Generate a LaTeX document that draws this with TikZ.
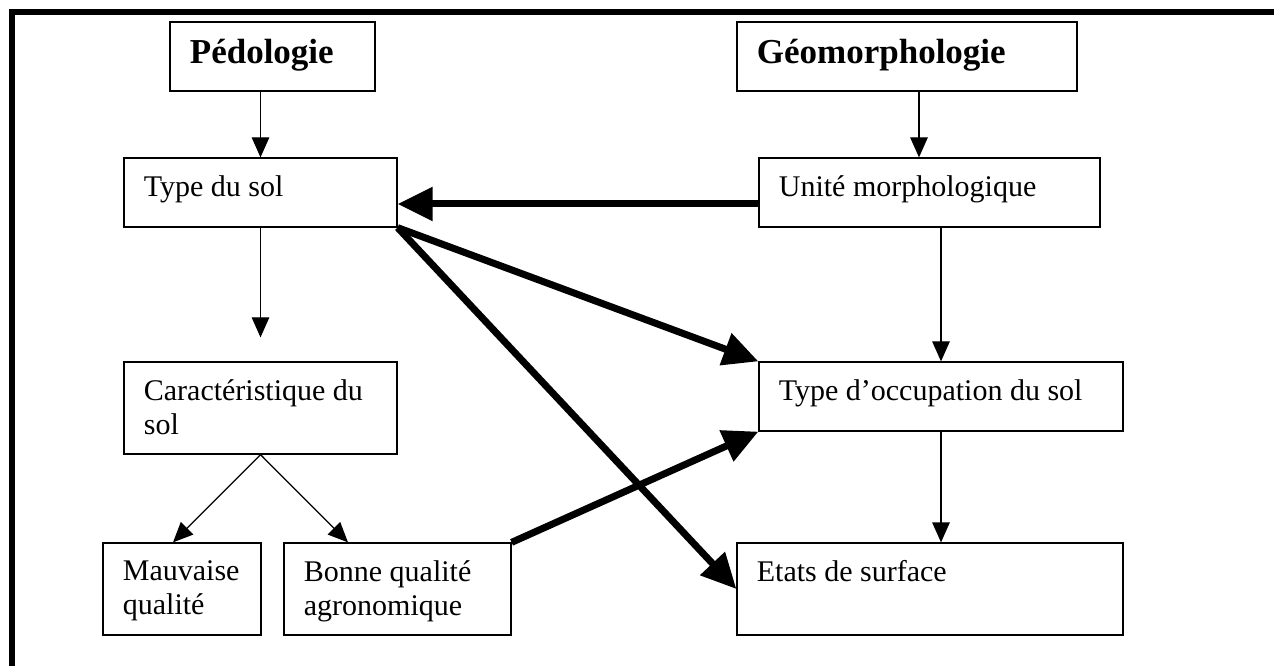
\documentclass[tikz,border=0pt]{standalone}
\usepackage{fontspec}
\setmainfont{Liberation Serif}
\usetikzlibrary{arrows.meta}

\begin{document}
\begin{tikzpicture}[x=0.4pt, y=-0.4pt,
  box/.style={shape=rectangle, draw=black, line width=0.5pt, inner sep=0pt},
  txt/.style={anchor=north west, inner xsep=8pt, inner ysep=7pt, align=left, font=\fontsize{12}{13.8}\selectfont},
  head/.style={txt, font=\fontsize{14}{16}\selectfont\bfseries},
  thin/.style={line width=0.5pt, -{Triangle[length=8pt, width=7pt]}},
  big/.style={line width=2.8pt, -{Triangle[length=14pt, width=13pt]}}]
%%%%%%%%%%%%%%%%%%%%%%%%%%%%%%%%%%%%%%%%%%% HELP LINES
%\draw[help lines] (0,0) grid[step=50] (1274,666);
\useasboundingbox (0,0) rectangle (1274,666);

%%%%%%%%%%%%%%%%%%%%%%%%%%%%%%%%%%%%%%%%%%% frame
\draw[line width=2.4pt] (11.5,666) -- (11.5,12) -- (1274,12);

%%%%% left column
\node[box, minimum width=82pt, minimum height=27.6pt](pedo) at (272.5,56.5){};
\node[head](pedo-t) at (pedo.north west){Pédologie};
\node[box, minimum width=109.2pt, minimum height=27.6pt](sol) at (260.5,192.5){};
\node[txt](sol-t) at (sol.north west){Type du sol};
\node[box, minimum width=109.2pt, minimum height=36.8pt](carac) at (260.5,408){};
\node[txt](carac-t) at (carac.north west){Caractéristique du\\sol};
\node[box, minimum width=63.2pt, minimum height=36.8pt](mauv) at (182,589){};
\node[txt](mauv-t) at (mauv.north west){Mauvaise\\qualité};
\node[box, minimum width=90.8pt, minimum height=36.8pt](bonne) at (397.5,589){};
\node[txt](bonne-t) at (bonne.north west){Bonne qualité\\agronomique};

%%%%% right column
\node[box, minimum width=136pt, minimum height=27.6pt](geo) at (907,56.5){};
\node[head](geo-t) at (geo.north west){Géomorphologie};
\node[box, minimum width=136.4pt, minimum height=27.6pt](unite) at (929.5,192.5){};
\node[txt](unite-t) at (unite.north west){Unité morphologique};
\node[box, minimum width=145.6pt, minimum height=27.6pt](occ) at (941,396.5){};
\node[txt](occ-t) at (occ.north west){Type d’occupation du sol};
\node[box, minimum width=154.4pt, minimum height=36.8pt](etats) at (930,589){};
\node[txt](etats-t) at (etats.north west){Etats de surface};

%%%%% thin arrows
\draw[thin] (pedo.south -| sol.north) -- (sol.north);
\draw[thin, shorten >=9.6pt] (sol.south) -- (carac.north);
\draw[thin] (carac.south) -- ([xshift=-3.6pt]mauv.north);
\draw[thin] (carac.south) -- ([xshift=-19.8pt]bonne.north);
\draw[thin] ([xshift=4.8pt]geo.south) -- ([xshift=4.8pt]geo.south |- unite.north);
\draw[thin] (unite.south -| occ.north) -- (occ.north);
\draw[thin] (occ.south) -- (occ.south |- etats.north);

%%%%% thick arrows
\draw[big] ([yshift=-4.6pt]unite.west) -- ([yshift=-4.6pt]sol.east);
\draw[big] (sol.south east) -- (occ.north west);
\draw[big] (sol.south east) -- (etats.west);
\draw[big] (bonne.north east) -- (occ.south west);
\end{tikzpicture}
\end{document}
